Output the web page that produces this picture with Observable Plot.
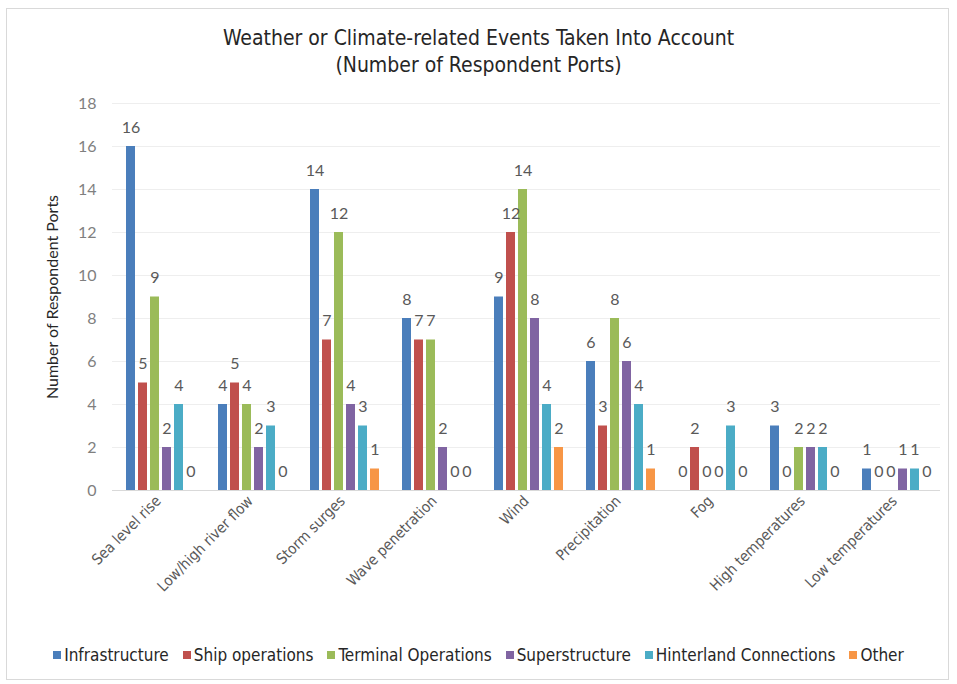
<!DOCTYPE html>
<html><head><meta charset="utf-8">
<script src="https://cdn.jsdelivr.net/npm/d3@7"></script>
<script src="https://cdn.jsdelivr.net/npm/@observablehq/plot@0.6"></script>
<style>
body{margin:0;background:#fff;font-family:"Liberation Sans Narrow","DejaVu Sans Condensed",sans-serif;}
#frame{position:absolute;left:6px;top:8px;width:943px;height:672px;border:1px solid #d9d9d9;box-sizing:border-box;z-index:2;pointer-events:none}
#title{position:absolute;left:0;top:25px;width:957px;text-align:center;font-size:21px;line-height:27px;color:#262626;}
#chart{position:absolute;left:0;top:85px;}
#legend{position:absolute;top:645px;left:0;width:957px;text-align:center;font-size:17px;color:#262626;white-space:nowrap}
#legend span.item{margin:0 7px;}
#legend span.sw{display:inline-block;width:8px;height:8px;margin-right:3px;vertical-align:middle;position:relative;top:-1px}
</style>
</head><body>
<div id="frame"></div>
<div id="title">Weather or Climate-related Events Taken Into Account<br>(Number of Respondent Ports)</div>
<div id="chart"></div>
<div id="legend"></div>
<script>
const categories = ["Sea level rise","Low/high river flow","Storm surges","Wave penetration","Wind","Precipitation","Fog","High temperatures","Low temperatures"];
const series = ["Infrastructure","Ship operations","Terminal Operations","Superstructure","Hinterland Connections","Other"];
const infrastructure = [16,4,14,8,9,6,0,3,1];
const shipOperations = [5,5,7,7,12,3,2,0,0];
const terminalOperations = [9,4,12,7,14,8,0,2,0];
const superstructure = [2,2,4,2,8,6,0,2,1];
const hinterland = [4,3,3,0,4,4,3,2,1];
const other = [0,0,1,0,2,1,0,0,0];
const yTicks = [0,2,4,6,8,10,12,14,16,18];
const colors = ["#4a7ebb","#c0504d","#9bbb59","#8064a2","#4bacc6","#f79646"];

const seriesValues = [infrastructure, shipOperations, terminalOperations, superstructure, hinterland, other];
const rows = [];
categories.forEach((c, i) => series.forEach((s, j) => rows.push({category: c, series: s, value: seriesValues[j][i]})));

const fontNarrow = '"Liberation Sans Narrow","DejaVu Sans Condensed",sans-serif';
const fontNum = 'Lato,"Open Sans",sans-serif';
const chart = Plot.plot({
  width: 957, height: 550,
  marginLeft: 108, marginRight: 14, marginTop: 18, marginBottom: 145,
  style: {fontFamily: fontNarrow, fontSize: "15px", color: "#595959", background: "transparent", overflow: "visible"},
  fx: {domain: categories, padding: 0, label: null, tickRotate: -45, tickSize: 0, tickPadding: 8},
  x: {domain: series, axis: null, paddingInner: 0.26, paddingOuter: 0.85, align: 0.6},
  y: {domain: [0, 18], ticks: yTicks, grid: true, tickSize: 0, tickPadding: 16, label: "Number of Respondent Ports", labelAnchor: "center", labelOffset: 66, labelArrow: "none"},
  color: {domain: series, range: colors},
  marks: [
    Plot.ruleY([0], {stroke: "#d9d9d9"}),
    Plot.barY(rows, {fx: "category", x: "series", y: "value", fill: "series"}),
    Plot.text(rows, {fx: "category", x: "series", y: "value", text: "value", dy: -19, fill: "#595959", fontSize: 16, fontFamily: fontNum})
  ]
});
chart.querySelectorAll("g[aria-label='y-axis tick label'] text, g[aria-label='y-axis tick label']").forEach(e => { e.style.fontFamily = fontNum; e.style.fontSize = "16px"; e.style.fill = "#7f7f7f"; });
chart.querySelectorAll("g[aria-label='y-axis label'], g[aria-label='y-axis label'] text").forEach(e => { e.style.fontFamily = fontNum; e.style.fontSize = "16px"; e.style.fill = "#262626"; });
document.getElementById("chart").appendChild(chart);

const leg = document.getElementById("legend");
series.forEach((s, j) => {
  const it = document.createElement("span");
  it.className = "item";
  it.innerHTML = `<span class="sw" style="background:${colors[j]}"></span>${s}`;
  leg.appendChild(it);
});
</script>
</body></html>
